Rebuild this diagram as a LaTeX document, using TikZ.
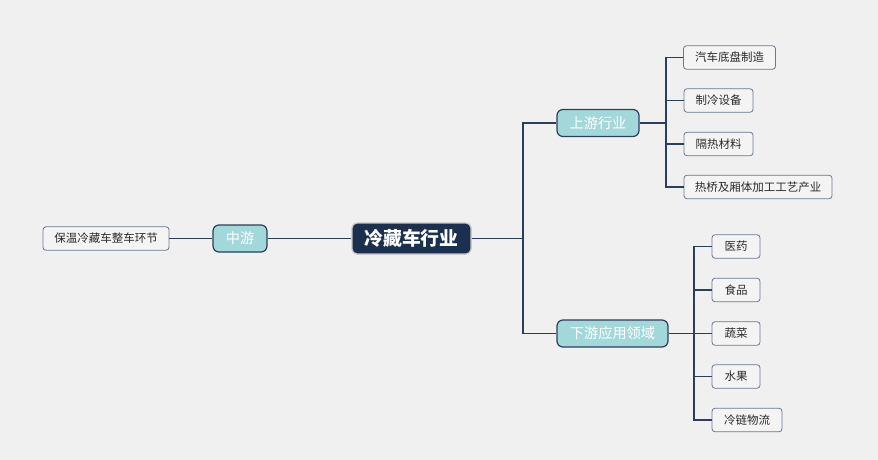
\documentclass[tikz,border=0pt]{standalone}
\usepackage{fontspec}
\newfontfamily\cjk{Noto Sans CJK SC}
\definecolor{bg}{HTML}{F0F0F0}
\definecolor{navy}{HTML}{1B2F4E}
\definecolor{linec}{HTML}{2C3E5A}
\definecolor{teal}{HTML}{A3D8DB}
\definecolor{leafb}{HTML}{6A7891}
\definecolor{leaff}{HTML}{F4F4F4}
\definecolor{leaft}{HTML}{2A2A2A}
\tikzset{
  rootbox/.style={draw=gray!45, line width=1.2pt, fill=navy, rounded corners=5pt, text=white, font=\cjk\fontsize{18.8}{20}\selectfont\bfseries, inner sep=0pt, minimum height=31pt},
  lvlbox/.style={draw=linec, line width=1.2pt, fill=teal, rounded corners=6pt, text=white, font=\cjk\fontsize{14.2}{16}\selectfont, inner sep=0pt, minimum height=27pt},
  leafbox/.style={draw=leafb, line width=0.8pt, fill=leaff, rounded corners=3pt, text=leaft, font=\cjk\fontsize{11.5}{13}\selectfont, inner sep=0pt, minimum height=23.5pt},
  conn/.style={draw=linec, line width=1.8pt}
}
\begin{document}
\begin{tikzpicture}[x=1pt,y=-1pt]
\fill[bg] (0,0) rectangle (878,460);
\useasboundingbox (0,0) rectangle (878,460);

\node[rootbox, minimum width=119pt] (root) at (411.5,238.5) {冷藏车行业};
\node[lvlbox, minimum width=54pt] (mid) at (240,238.5) {中游};
\node[leafbox, minimum width=126pt] (keep) at (106,238.5) {保温冷藏车整车环节};

\node[lvlbox, minimum width=82pt] (up) at (598,123) {上游行业};
\node[lvlbox, minimum width=111pt] (down) at (612.5,333.5) {下游应用领域};

\node[leafbox, minimum width=92pt] (u1) at (729.5,57.5) {汽车底盘制造};
\node[leafbox, minimum width=69pt] (u2) at (718.5,100.5) {制冷设备};
\node[leafbox, minimum width=69pt] (u3) at (718.5,144) {隔热材料};
\node[leafbox, minimum width=148pt] (u4) at (758,187) {热桥及厢体加工工艺产业};

\node[leafbox, minimum width=48pt] (d1) at (736,246.5) {医药};
\node[leafbox, minimum width=48pt] (d2) at (736,290) {食品};
\node[leafbox, minimum width=48pt] (d3) at (736,333.5) {蔬菜};
\node[leafbox, minimum width=48pt] (d4) at (736,376.5) {水果};
\node[leafbox, minimum width=70pt] (d5) at (747,420) {冷链物流};

\coordinate (j0) at (523,238.5);
\coordinate (ju) at (666,123);
\coordinate (jd) at (694,333.5);

\draw[conn] (root.west) -- (mid.east);
\draw[conn] (mid.west) -- (keep.east);
\draw[conn] (root.east) -- (j0);
\draw[conn] (j0) |- (up.west);
\draw[conn] (j0) |- (down.west);

\draw[conn] (up.east) -- (ju);
\foreach \n in {u1,u2,u3,u4} \draw[conn] (ju) |- (\n.west);
\draw[conn] (down.east) -- (jd);
\foreach \n in {d1,d2,d3,d4,d5} \draw[conn] (jd) |- (\n.west);
\end{tikzpicture}
\end{document}
